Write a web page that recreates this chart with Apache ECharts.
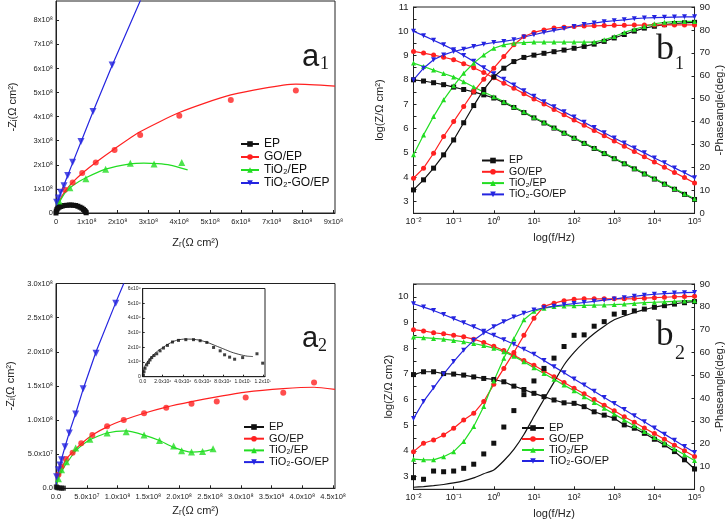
<!DOCTYPE html>
<html>
<head>
<meta charset="utf-8">
<title>EIS Nyquist / Bode</title>
<script src="https://cdn.jsdelivr.net/npm/echarts@6/dist/echarts.min.js"></script>
<style>
  html, body { margin: 0; padding: 0; background: #fff; }
  #main { width: 726px; height: 528px; }
</style>
</head>
<body>
<div id="main"></div>
<script>
// ---- legend / styles ----
var names = ['EP', 'GO/EP', 'TiO₂/EP', 'TiO₂-GO/EP'];
var colors = ['#111111', '#ff2020', '#22dd22', '#2424e0'];
var invTri = 'path://M0,0L10,0L5,9Z';
var symbols = ['rect', 'circle', 'triangle', invTri];

// ---- a1 : Nyquist, both axes in 1e8 Ω cm² ----
var a1_EP = [[0,0],[0.01,0.08],[0.03,0.15],[0.06,0.2],[0.1,0.24],[0.15,0.27],[0.2,0.29],[0.27,0.31],[0.35,0.32],[0.43,0.33],[0.5,0.33],[0.57,0.32],[0.64,0.31],[0.71,0.28],[0.78,0.24],[0.84,0.2],[0.89,0.15],[0.93,0.1],[0.96,0.05],[0.98,0.01]];
var a1_GO_pts = [[0.29,0.97],[0.54,1.27],[0.85,1.66],[1.29,2.1],[1.9,2.62],[2.73,3.24],[4.0,4.04],[5.67,4.69],[7.78,5.08]];
var a1_GO_fit = [[0,0],[0.05,0.3],[0.13,0.55],[0.29,0.9],[0.56,1.3],[0.88,1.68],[1.31,2.12],[1.85,2.62],[2.71,3.36],[4.0,4.17],[5.67,4.9],[7.78,5.35],[9.05,5.27]];
var a1_Ti_pts = [[0.1,0.5],[0.45,1.05],[0.97,1.42],[1.61,1.82],[2.41,2.07],[3.18,2.03],[4.08,2.1]];
var a1_Ti_fit = [[0,0],[0.05,0.3],[0.13,0.5],[0.3,0.85],[0.56,1.15],[0.97,1.46],[1.61,1.82],[2.41,2.04],[2.85,2.07],[3.3,2.05],[3.7,1.99],[4.27,1.79]];
var a1_TG_pts = [[0.02,0.45],[0.08,0.62],[0.15,0.86],[0.26,1.13],[0.38,1.56],[0.54,2.11],[0.81,2.97],[1.2,4.21],[1.82,6.14]];
var a1_TG_fit = [[0,0],[0.02,0.3],[0.06,0.5],[0.15,0.84],[0.26,1.17],[0.38,1.56],[0.54,2.08],[0.81,2.95],[1.2,4.2],[1.82,6.12],[2.9,9.3]];

// ---- a2 : Nyquist, axes in 1e8 Ω cm² ----
var a2_EP = [[0.005,0.02],[0.02,0.01],[0.05,0.005],[0.09,0.003],[0.12,0.002]];
var a2_GO_pts = [[0.04,0.2],[0.09,0.32],[0.16,0.43],[0.27,0.52],[0.41,0.66],[0.59,0.78],[0.83,0.91],[1.1,1.0],[1.43,1.1],[1.79,1.18],[2.2,1.24],[2.61,1.27],[3.08,1.33],[3.69,1.4],[4.19,1.55]];
var a2_GO_fit = [[0,0],[0.04,0.17],[0.09,0.29],[0.17,0.43],[0.28,0.54],[0.42,0.66],[0.61,0.79],[0.83,0.9],[1.1,1.0],[1.43,1.1],[1.79,1.19],[2.2,1.27],[2.61,1.34],[3.08,1.41],[3.69,1.46],[4.19,1.48],[4.53,1.45]];
var a2_Ti_pts = [[0.04,0.14],[0.09,0.27],[0.17,0.39],[0.32,0.59],[0.55,0.72],[0.83,0.81],[1.14,0.83],[1.43,0.78],[1.68,0.7],[1.91,0.62],[2.04,0.55],[2.2,0.53],[2.38,0.54],[2.55,0.58]];
var a2_Ti_fit = [[0,0],[0.03,0.12],[0.065,0.2],[0.15,0.34],[0.23,0.44],[0.32,0.55],[0.55,0.71],[0.83,0.81],[1.14,0.84],[1.43,0.78],[1.68,0.7],[1.91,0.6],[2.2,0.53],[2.38,0.54],[2.55,0.57]];
var a2_TG_pts = [[0.01,0.17],[0.04,0.27],[0.065,0.34],[0.09,0.42],[0.146,0.61],[0.216,0.81],[0.32,1.09],[0.44,1.46],[0.65,1.98],[0.97,2.71]];
var a2_TG_fit = [[0,0],[0.01,0.12],[0.03,0.22],[0.06,0.33],[0.1,0.46],[0.15,0.62],[0.22,0.83],[0.32,1.1],[0.44,1.45],[0.65,2.0],[0.97,2.72],[1.1,3.0]];
// inset of a2 (EP), axes in 1e6 Ω cm²
var in_EP_pts = [[0.07,0.11],[0.13,0.34],[0.23,0.57],[0.4,0.8],[0.57,0.96],[0.73,1.14],[0.9,1.3],[1.13,1.44],[1.4,1.56],[1.73,1.76],[2.07,1.95],[2.47,2.13],[2.97,2.36],[3.57,2.47],[4.3,2.52],[5.07,2.52],[5.73,2.45],[6.4,2.33],[7.07,1.99],[7.73,1.76],[8.17,1.49],[8.67,1.33],[9.17,1.19],[9.97,1.3],[11.4,1.56],[11.97,0.92]];
var in_EP_fit = [[0,0],[0.05,0.3],[0.2,0.7],[0.5,1.05],[1.0,1.45],[1.5,1.75],[2.0,1.98],[2.5,2.2],[3.0,2.38],[3.5,2.5],[4.2,2.56],[5.0,2.55],[5.7,2.48],[6.5,2.32],[7.3,2.1],[8.1,1.88],[8.9,1.66],[9.7,1.5],[10.4,1.4],[11.0,1.37]];

// ---- Bode plots: log10(f) grid ----
var logF = [-2,-1.75,-1.5,-1.25,-1,-0.75,-0.5,-0.25,0,0.25,0.5,0.75,1,1.25,1.5,1.75,2,2.25,2.5,2.75,3,3.25,3.5,3.75,4,4.25,4.5,4.75,5];

// b1: log|Z| and -phase
var b1_Z_EP = [8.0,7.95,7.88,7.8,7.7,7.6,7.5,7.38,7.25,7.06,6.86,6.65,6.43,6.22,6.01,5.8,5.59,5.38,5.17,4.96,4.75,4.54,4.33,4.12,3.91,3.7,3.49,3.28,3.07];
var b1_Z_GO = [9.17,9.1,9.02,8.93,8.83,8.66,8.5,8.3,8.08,7.86,7.65,7.43,7.21,7.0,6.78,6.56,6.34,6.13,5.91,5.7,5.48,5.26,5.05,4.83,4.61,4.4,4.18,3.97,3.75];
var b1_Z_Ti = [8.69,8.55,8.4,8.26,8.12,7.92,7.7,7.5,7.3,7.1,6.89,6.68,6.46,6.25,6.04,5.83,5.62,5.41,5.2,4.99,4.78,4.57,4.36,4.15,3.94,3.73,3.52,3.31,3.1];
var b1_Z_TG = [10.0,9.82,9.63,9.44,9.24,9.0,8.76,8.5,8.25,8.02,7.79,7.55,7.32,7.1,6.89,6.68,6.47,6.25,6.03,5.82,5.6,5.4,5.19,4.99,4.78,4.58,4.37,4.17,3.96];
var b1_P_EP = [10.2,14.6,19.7,25.5,32,39.5,47,54,59.5,63.3,66.2,68,69,69.8,70.5,71.2,72,72.8,73.8,75,76.5,78,79.5,80.8,81.6,82.3,82.8,83.1,83.3];
var b1_P_GO = [15.3,19.7,26.2,33.5,40,46.6,53.1,58.5,63.3,68.4,73.5,77.1,78.9,80,80.8,81.2,81.5,81.7,81.8,81.9,82,82,82.1,82.1,82.2,82.2,82.2,82.2,82.2];
var b1_P_Ti = [25.5,34.2,42.2,49.5,55.6,61.1,65.5,69.1,72,73.5,74.2,74.5,74.7,74.7,74.7,74.7,74.7,74.7,74.7,75.7,77.1,78.9,80.3,81.5,82.7,83.3,83.6,83.7,83.7];
var b1_P_TG = [58.2,63.3,67,69.1,70.6,71.6,72.8,73.8,74.5,75,75.7,76.9,77.9,78.9,79.8,80.6,81.5,82.4,83,83.6,84,84.4,84.9,85.2,85.4,85.5,85.6,85.7,85.7];

// b2
var b2_Z_EP = [6.97,7.08,7.08,7.01,6.99,6.95,6.88,6.82,6.78,6.69,6.52,6.39,6.24,6.11,5.98,5.87,5.85,5.72,5.52,5.39,5.27,5.01,4.88,4.68,4.45,4.23,3.97,3.65,3.29];
var b2_Z_GO = [8.72,8.67,8.6,8.56,8.5,8.44,8.35,8.22,8.07,7.91,7.72,7.52,7.33,7.11,6.89,6.66,6.44,6.22,6.0,5.78,5.56,5.33,5.11,4.89,4.67,4.45,4.22,4.0,3.78];
var b2_Z_Ti = [8.43,8.41,8.38,8.35,8.3,8.25,8.18,8.1,8.0,7.86,7.68,7.47,7.24,7.01,6.79,6.56,6.34,6.11,5.88,5.66,5.43,5.2,4.98,4.75,4.52,4.3,4.07,3.85,3.62];
var b2_Z_TG = [9.73,9.6,9.47,9.31,9.15,8.99,8.83,8.66,8.5,8.33,8.15,7.96,7.76,7.52,7.28,7.04,6.8,6.56,6.32,6.08,5.84,5.61,5.37,5.13,4.89,4.65,4.41,4.17,3.93];
var b2_P_EP = [5.1,4.4,8.0,7.7,8.0,9.2,11,15.5,20.2,27.3,34.5,41.5,47.5,53,57.5,62.6,67.5,67.7,71.5,73.5,76.8,77.5,78.2,79,79.8,80.5,81.2,81.8,82.3];
var b2_P_EP_fit = [0.9,1.2,1.6,2.1,2.8,3.7,5,6.8,8.5,12.5,17.5,24,31.9,39.5,47,54.5,60,64.5,68.3,71.5,74.3,76,77.5,78.8,79.8,80.6,81.3,81.9,82.3];
var b2_P_GO = [16.5,20.2,21.6,23.8,26.8,30.4,33.3,38.5,46,53,60,67.5,75,80.2,81.6,82.7,83.3,83.5,83.5,83.5,83.5,83.5,83.6,83.8,84,84.2,84.4,84.5,84.6];
var b2_P_Ti = [13.2,12.9,12.9,14.3,16.5,20.9,27.5,36.3,47.5,57.5,66,74.3,78,79.4,80.1,80.4,80.5,80.6,80.7,80.8,81,81.2,81.5,81.8,82,82.2,82.4,82.6,82.7];
var b2_P_TG = [31,38.5,44.5,50.5,56,61,65.3,68.5,71.3,73.5,75.5,77.2,78.6,79.6,80.3,80.9,81.4,81.9,82.4,82.9,83.4,84,84.6,85.1,85.5,85.8,86,86.2,86.3];

// ---- helpers ----
var SUP = {'-':'⁻','0':'⁰','1':'¹','2':'²','3':'³','4':'⁴','5':'⁵','6':'⁶','7':'⁷','8':'⁸','9':'⁹'};
function sup(n) {
  return String(n).split('').map(function (c) { return SUP[c]; }).join('');
}
function r(v) { return Math.round(v * 1000) / 1000; }
// plain "3x10⁸"
function sciInt(exp) {
  return function (v) { return v === 0 ? '0' : r(v) + 'x10' + sup(exp); };
}
// "5.0x10⁷" style, v given in units of 10^exp
function sciDec(exp) {
  return function (v) {
    if (v === 0) return '0.0';
    var e = exp, m = v;
    while (m < 1) { m *= 10; e -= 1; }
    while (m >= 10) { m /= 10; e += 1; }
    return m.toFixed(1) + 'x10' + sup(e);
  };
}
function decade(v) { return '10' + sup(v); }
function wholeOnly(v) { return Math.abs(v % 1) < 1e-6 ? String(Math.round(v)) : ''; }

var FONT = 'Liberation Sans';
var INK = '#222';

function axis(o) {
  return {
    type: 'value', gridIndex: o.grid, position: o.pos,
    min: o.min, max: o.max, interval: o.interval,
    splitLine: { show: false },
    axisLine: { show: true, onZero: false, lineStyle: { color: INK, width: 1 } },
    axisTick: { show: true, inside: true, length: o.tick || 3, lineStyle: { color: INK } },
    axisLabel: { color: INK, fontSize: o.fs || 8, fontFamily: FONT, margin: o.margin || 4,
                 formatter: o.fmt, showMaxLabel: o.hideMax ? false : null },
    name: o.name || '', nameLocation: 'middle', nameGap: o.gap || 20, nameRotate: o.rot,
    nameTextStyle: { color: INK, fontSize: o.nfs || 11, fontFamily: FONT }
  };
}

var xAxes = [
  axis({ grid: 0, min: 0, max: 9.05, interval: 1, fmt: sciInt(8), hideMax: true, fs: 7.5, margin: 5,
         name: 'Zᵣ(Ω cm²)', gap: 24, nfs: 11 }),
  axis({ grid: 1, min: -2, max: 5, interval: 1, fmt: decade, fs: 9, margin: 4,
         name: 'log(f/Hz)', gap: 19, nfs: 11 }),
  axis({ grid: 2, min: 0, max: 4.53, interval: 0.5, fmt: sciDec(8), hideMax: true, fs: 7.5, margin: 5,
         name: 'Zᵣ(Ω cm²)', gap: 17, nfs: 11 }),
  axis({ grid: 3, min: -2, max: 5, interval: 1, fmt: decade, fs: 9, margin: 4,
         name: 'log(f/Hz)', gap: 19, nfs: 11 }),
  axis({ grid: 4, min: 0, max: 12.2, interval: 2, fmt: sciDec(6), hideMax: true, fs: 5, margin: 2, tick: 2 })
];
var yAxes = [
  axis({ grid: 0, min: 0, max: 8.8, interval: 1, fmt: sciInt(8), hideMax: true, fs: 7.5, margin: 3,
         name: '-Zᵢ(Ω cm²)', gap: 38, rot: 90 }),
  axis({ grid: 1, pos: 'left', min: 2.5, max: 11, interval: 0.5, fmt: wholeOnly, fs: 9.5, margin: 5,
         name: 'log(Z/Ω cm²)', gap: 28, rot: 90 }),
  axis({ grid: 1, pos: 'right', min: 0, max: 90, interval: 10, fs: 9.5, margin: 5,
         name: '-Phaseangle(deg.)', gap: 17, rot: 90 }),
  axis({ grid: 2, min: 0, max: 3, interval: 0.5, fmt: sciDec(8), fs: 7.5, margin: 3,
         name: '-Zᵢ(Ω cm²)', gap: 40, rot: 90 }),
  axis({ grid: 3, pos: 'left', min: 2.5, max: 10.5, interval: 0.5, fmt: wholeOnly, fs: 9.5, margin: 5,
         name: 'log(Z/Ω cm2)', gap: 19, rot: 90 }),
  axis({ grid: 3, pos: 'right', min: 0, max: 90, interval: 10, fs: 9.5, margin: 5,
         name: '-Phaseangle(deg.)', gap: 17, rot: 90 }),
  axis({ grid: 4, min: 0, max: 6, interval: 1, fmt: sciInt(6), fs: 5, margin: 2, tick: 2 })
];

var series = [];
// empty series that only give the legends their line + marker icons
names.forEach(function (n, i) {
  series.push({ name: n, type: 'line', xAxisIndex: 0, yAxisIndex: 0, data: [],
                symbol: symbols[i], symbolSize: 6,
                itemStyle: { color: colors[i] }, lineStyle: { color: colors[i], width: 1.6 } });
});
function dots(data, xi, yi, i, size) {
  series.push({ type: 'scatter', xAxisIndex: xi, yAxisIndex: yi, data: data,
                symbol: symbols[i], symbolSize: size, itemStyle: { color: colors[i] }, z: 4 });
}
function curve(data, xi, yi, i, smooth) {
  series.push({ type: 'line', xAxisIndex: xi, yAxisIndex: yi, data: data, showSymbol: false,
                smooth: smooth === undefined ? 0.2 : smooth,
                lineStyle: { color: colors[i], width: 1.2 }, z: 3 });
}
function bode(vals, xi, yi, i, withLine) {
  series.push({ type: 'line', xAxisIndex: xi, yAxisIndex: yi,
                data: logF.map(function (f, k) { return [f, vals[k]]; }),
                symbol: symbols[i], symbolSize: 5, showSymbol: true,
                itemStyle: { color: colors[i] },
                lineStyle: { color: colors[i], width: withLine === false ? 0 : 1.2 }, z: 3 });
}

// a1
series.push({ type: 'line', xAxisIndex: 0, yAxisIndex: 0, data: a1_EP, symbol: 'rect', symbolSize: 5,
              itemStyle: { color: colors[0] }, lineStyle: { color: colors[0], width: 1.2 }, z: 4 });
curve(a1_GO_fit, 0, 0, 1); dots(a1_GO_pts, 0, 0, 1, 6);
curve(a1_Ti_fit, 0, 0, 2); dots(a1_Ti_pts, 0, 0, 2, 7);
curve(a1_TG_fit, 0, 0, 3, false); dots(a1_TG_pts, 0, 0, 3, 7);

// a2 + inset
dots(a2_EP, 2, 3, 0, 5);
curve(a2_GO_fit, 2, 3, 1); dots(a2_GO_pts, 2, 3, 1, 6);
curve(a2_Ti_fit, 2, 3, 2); dots(a2_Ti_pts, 2, 3, 2, 7);
curve(a2_TG_fit, 2, 3, 3, false); dots(a2_TG_pts, 2, 3, 3, 7);
curve(in_EP_fit, 4, 6, 0);
series[series.length - 1].lineStyle.width = 0.8;
dots(in_EP_pts, 4, 6, 0, 3);

// b1
bode(b1_Z_EP, 1, 1, 0); bode(b1_Z_GO, 1, 1, 1); bode(b1_Z_Ti, 1, 1, 2); bode(b1_Z_TG, 1, 1, 3);
bode(b1_P_EP, 1, 2, 0); bode(b1_P_GO, 1, 2, 1); bode(b1_P_Ti, 1, 2, 2); bode(b1_P_TG, 1, 2, 3);

// b2
bode(b2_Z_EP, 3, 4, 0); bode(b2_Z_GO, 3, 4, 1); bode(b2_Z_Ti, 3, 4, 2); bode(b2_Z_TG, 3, 4, 3);
curve(logF.map(function (f, k) { return [f, b2_P_EP_fit[k]]; }), 3, 5, 0);
bode(b2_P_EP, 3, 5, 0, false);
bode(b2_P_GO, 3, 5, 1); bode(b2_P_Ti, 3, 5, 2); bode(b2_P_TG, 3, 5, 3);

function legendAt(left, top, fs, lh, gap, w) {
  return {
    orient: 'vertical', left: left, top: top, padding: 0, itemGap: gap,
    itemWidth: w, itemHeight: 7, selectedMode: false, data: names,
    textStyle: { fontSize: fs, lineHeight: lh, fontFamily: FONT, color: '#111' }
  };
}

function label(txt, x, y, fs, family) {
  return { type: 'text', z: 10,
           style: { text: txt, x: x, y: y, fontSize: fs, fontFamily: family, fill: '#1a1a1a',
                    verticalAlign: 'middle' } };
}

var gridStyle = { show: true, borderColor: INK, borderWidth: 1, backgroundColor: 'transparent' };
var option = {
  animation: false,
  backgroundColor: '#fff',
  grid: [
    Object.assign({ left: 56, top: 1, width: 279, height: 212 }, gridStyle),
    Object.assign({ left: 413.5, top: 7, width: 281.5, height: 206.3 }, gridStyle),
    Object.assign({ left: 56, top: 283.5, width: 279, height: 204.8 }, gridStyle),
    Object.assign({ left: 413.5, top: 284, width: 281.5, height: 205.3 }, gridStyle),
    Object.assign({ left: 142.7, top: 288.5, width: 122.3, height: 88.2 }, gridStyle, { backgroundColor: '#fff' })
  ],
  xAxis: xAxes,
  yAxis: yAxes,
  legend: [
    legendAt(240, 138, 12, 12, 1, 18),
    legendAt(481, 155, 10.5, 10, 0.3, 22),
    legendAt(243, 421.5, 11, 11, 0.7, 20),
    legendAt(521, 422.5, 11, 11, 0, 22)
  ],
  graphic: [
    label('a', 302, 57, 31, FONT), label('1', 320, 64, 18, 'Liberation Serif'),
    label('a', 302, 339, 29, FONT), label('2', 318, 346, 18, 'Liberation Serif'),
    label('b', 656, 50, 36, 'Liberation Serif'), label('1', 675, 64, 18, 'Liberation Serif'),
    label('b', 656, 336, 35, 'Liberation Serif'), label('2', 675, 354, 20, 'Liberation Serif')
  ],
  series: series
};

var chart = echarts.init(document.getElementById('main'), null, { renderer: 'canvas' });
chart.setOption(option);
</script>
</body>
</html>
